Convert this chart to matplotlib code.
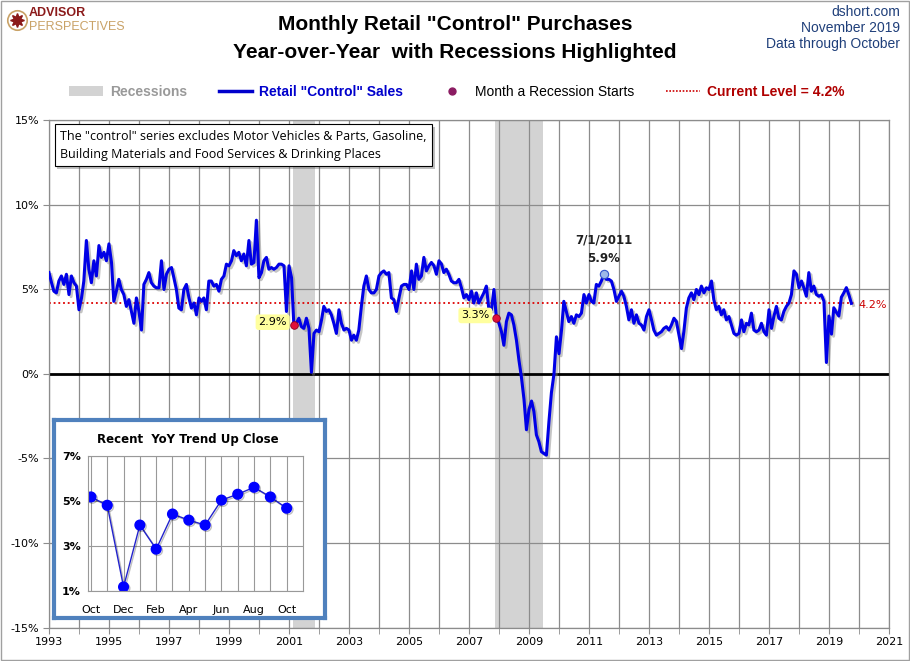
import matplotlib
matplotlib.use("Agg")
import pandas as pd
import matplotlib.pyplot as plt
import matplotlib.dates as d
import matplotlib.patheffects as pe
from matplotlib import font_manager
from matplotlib.lines import Line2D
from matplotlib.patches import Patch

# Retail "control" sales, YoY % change, monthly Jan 1993 .. Oct 2019
yoy_1990s = [
    6.0, 5.4, 4.9, 4.8, 5.5, 5.8, 5.3, 5.9, 4.7, 5.8, 5.4, 5.2,   # 1993
    3.8, 4.5, 5.5, 7.9, 6.2, 5.4, 6.7, 5.8, 7.6, 6.9, 7.2, 6.7,   # 1994
    7.7, 6.6, 4.3, 4.9, 5.6, 5.0, 4.7, 4.0, 4.4, 3.7, 3.0, 4.5,   # 1995
    3.7, 2.6, 5.3, 5.6, 6.0, 5.4, 5.2, 5.1, 5.1, 6.7, 5.0, 5.9,   # 1996
    6.2, 6.3, 5.7, 5.0, 3.9, 3.8, 5.0, 5.3, 4.5, 3.9, 4.2, 3.5,   # 1997
    4.5, 4.3, 4.5, 3.8, 5.5, 5.5, 5.2, 5.3, 4.9, 5.6, 5.8, 6.5,   # 1998
    6.4, 6.7, 7.3, 7.0, 7.2, 6.7, 7.1, 6.4, 7.9, 6.5, 6.6, 9.1,   # 1999
]
yoy_2000s = [
    5.7, 6.0, 6.7, 6.9, 6.2, 6.3, 6.2, 6.3, 6.5, 6.5, 6.4, 3.7,   # 2000
    6.4, 5.7, 2.9, 3.0, 3.3, 2.8, 2.7, 3.3, 2.7, 0.1, 2.4, 2.6,   # 2001
    2.5, 3.2, 4.0, 3.7, 3.8, 3.5, 3.0, 2.4, 3.8, 3.0, 2.6, 2.7,   # 2002
    2.6, 2.0, 2.3, 2.0, 2.6, 4.0, 5.2, 5.8, 5.0, 4.8, 4.8, 5.0,   # 2003
    5.8, 6.0, 6.1, 5.9, 6.0, 4.5, 4.4, 3.7, 4.5, 5.2, 5.3, 5.3,   # 2004
    5.0, 6.1, 5.0, 6.5, 5.6, 5.8, 6.9, 6.1, 6.4, 6.6, 6.4, 5.9,   # 2005
    6.7, 6.5, 6.0, 6.2, 5.9, 5.5, 5.4, 5.4, 5.6, 5.1, 4.5, 4.7,   # 2006
    4.4, 4.9, 4.2, 4.8, 4.2, 4.5, 4.8, 5.2, 3.8, 3.8, 5.0, 3.3,   # 2007
    3.0, 2.5, 1.7, 3.1, 3.6, 3.5, 2.9, 2.0, 0.8, -0.2, -1.5, -3.3,  # 2008
    -2.1, -1.6, -2.2, -3.6, -4.0, -4.6, -4.7, -4.8, -2.8, -1.1, 0.0, 2.2,  # 2009
]
yoy_2010s = [
    1.2, 2.6, 4.3, 3.7, 3.1, 3.4, 3.0, 3.5, 3.4, 3.6, 4.7, 4.2,   # 2010
    4.7, 4.3, 4.2, 5.3, 5.2, 5.5, 5.9, 5.6, 5.6, 5.5, 5.0, 4.3,   # 2011
    4.6, 4.9, 4.6, 4.0, 3.2, 3.8, 3.0, 3.5, 3.0, 2.9, 2.6, 3.4,   # 2012
    3.8, 3.2, 2.6, 2.3, 2.4, 2.5, 2.7, 2.8, 2.6, 2.9, 3.3, 3.1,   # 2013
    2.3, 1.5, 2.5, 3.9, 4.5, 4.8, 4.4, 5.0, 4.7, 5.2, 4.8, 5.1,   # 2014
    5.0, 5.5, 4.4, 3.8, 4.0, 3.5, 3.8, 3.2, 3.4, 2.9, 2.4, 2.3,   # 2015
    2.4, 3.2, 2.5, 3.0, 2.9, 3.6, 2.6, 2.5, 2.6, 3.0, 2.5, 2.3,   # 2016
    3.8, 2.7, 3.4, 4.0, 3.3, 3.2, 3.7, 4.0, 4.2, 4.7, 6.1, 5.9,   # 2017
    5.1, 5.5, 5.1, 4.6, 6.0, 4.9, 5.2, 4.7, 4.6, 4.68, 4.31, 0.68,  # 2018
    3.43, 2.36, 3.92, 3.65, 3.43, 4.54, 4.80, 5.11, 4.68, 4.18,      # 2019
]
yoy = yoy_1990s + yoy_2000s + yoy_2010s
dates = pd.date_range("1993-01-01", periods=len(yoy), freq="MS")
series = pd.Series(yoy, index=dates)

rec_start = pd.to_datetime(["2001-03-01", "2007-12-01"])
rec_end = pd.to_datetime(["2001-11-01", "2009-06-01"])
peak_date = pd.Timestamp("2011-07-01")
current_level = 4.2

tick_years = list(range(1993, 2022, 2))
y_ticks = [-15, -10, -5, 0, 5, 10, 15]

inset_ticks = [0.5, 2.5, 4.5, 6.5]
inset_tick_labels = ["1%", "3%", "5%", "7%"]

names = {f.name for f in font_manager.fontManager.ttflist}
narrow = "Liberation Sans Narrow" if "Liberation Sans Narrow" in names else "Liberation Sans"

navy = "#1F3F7A"
grid_c = "#8C8C8C"

fig = plt.figure(figsize=(9.1, 6.61), dpi=100)
fig.patch.set_facecolor("white")
fig.add_artist(plt.Rectangle((0.001, 0.001), 0.998, 0.998, transform=fig.transFigure,
                             fill=False, edgecolor="#A0A0A0", lw=1))

ax = fig.add_axes([49 / 910, 1 - 627.5 / 661, 840 / 910, 507 / 661])

# recessions
for s, e in zip(rec_start, rec_end):
    ax.axvspan(s - pd.Timedelta(days=15), e + pd.Timedelta(days=15),
               color="#D3D3D3", lw=0, zorder=0.2)

ax.plot(dates, series, color="#0000E6", lw=2.2, zorder=3,
        path_effects=[pe.SimpleLineShadow(offset=(1.5, -1.5), shadow_color="#808080", alpha=0.45),
                      pe.Normal()])
ax.axhline(0, color="black", lw=2, zorder=2)
ax.hlines(current_level, dates[0], dates[-1] + pd.DateOffset(months=1),
          colors="#DD0000", linestyles=(0, (1, 1.6)), lw=1.3, zorder=2.5)

# recession start markers
start_vals = series[rec_start]
ax.scatter(rec_start, start_vals, s=30, color="#E0103A", edgecolor="#900020", lw=0.6, zorder=5)
for dt, v in start_vals.items():
    ax.annotate(f"{v:.1f}%", (dt, v), xytext=(-5, 2), textcoords="offset points",
                ha="right", va="center", fontsize=8, color="black",
                bbox=dict(boxstyle="round,pad=0.25", fc="#FFFF9E", ec="none"), zorder=6)

# peak marker
pv = series[peak_date]
ax.plot(peak_date, pv, "o", ms=6, mfc="#9DB9E8", mec="#3355CC", mew=0.8, zorder=5)
ax.annotate(f"{peak_date.month}/{peak_date.day}/{peak_date.year}\n{pv:.1f}%", (peak_date, pv),
            xytext=(0, 7), textcoords="offset points", ha="center", va="bottom",
            fontsize=8.5, color="#202020", fontweight="semibold", linespacing=1.5)

# current value label
ax.annotate(f"{series.iloc[-1]:.1f}%", (dates[-1], series.iloc[-1]), xytext=(5, -1),
            textcoords="offset points", ha="left", va="center", fontsize=8, color="#CC0000")

ax.set_xlim(pd.Timestamp("1993-01-01"), pd.Timestamp("2021-01-01"))
ax.set_ylim(-15, 15)
ax.set_xticks(pd.to_datetime([f"{y}-01-01" for y in tick_years]))
ax.set_xticklabels([str(y) for y in tick_years])
ax.set_xticks(pd.date_range("1993-01-01", "2021-01-01", freq="YS"), minor=True)
ax.set_yticks(y_ticks)
ax.set_yticklabels([f"{t}%" for t in y_ticks])
ax.set_axisbelow(True)
ax.grid(which="both", axis="x", color=grid_c, lw=0.9)
ax.grid(which="major", axis="y", color=grid_c, lw=0.9)
ax.tick_params(which="both", direction="out", length=4, color=grid_c, labelsize=8, pad=3)
for sp in ax.spines.values():
    sp.set_color(grid_c)
    sp.set_linewidth(0.9)

note = ax.text(0.0135, 0.982,
               'The "control" series excludes Motor Vehicles & Parts, Gasoline,\n'
               'Building Materials and Food Services & Drinking Places',
               transform=ax.transAxes, ha="left", va="top", fontsize=9, family="Open Sans",
               linespacing=1.5, zorder=7,
               bbox=dict(boxstyle="square,pad=0.45", fc="white", ec="black", lw=0.8))
note.get_bbox_patch().set_path_effects([pe.withSimplePatchShadow(offset=(2, -2), alpha=0.35)])

# titles and header
fig.text(0.5, 1 - 24 / 661, 'Monthly Retail "Control" Purchases', ha="center", va="center",
         family=narrow, fontsize=15, fontweight="bold")
fig.text(0.5, 1 - 53 / 661, "Year-over-Year  with Recessions Highlighted", ha="center", va="center",
         family=narrow, fontsize=15, fontweight="bold")
for i, line in enumerate(["dshort.com", "November 2019", "Data through October"]):
    fig.text(900 / 910, 1 - (12 + 16 * i) / 661, line, ha="right", va="center",
             family=narrow, fontsize=10, color=navy)

# logo
fig.add_artist(Line2D([17 / 910], [1 - 20 / 661], marker="o", ms=14, mfc="none", mec="#C9A267",
                      mew=1.2, transform=fig.transFigure))
fig.add_artist(Line2D([17 / 910], [1 - 20 / 661], marker=(8, 1, 0), ms=10, color="#8B1A1A",
                      transform=fig.transFigure))
fig.text(29 / 910, 1 - 13 / 661, "ADVISOR", ha="left", va="center", family=narrow,
         fontsize=9, fontweight="bold", color="#8B1A1A")
fig.text(29 / 910, 1 - 27 / 661, "PERSPECTIVES", ha="left", va="center", family=narrow,
         fontsize=9, color="#C9A267")

# legend
handles = [Patch(fc="#D3D3D3", ec="none"),
           Line2D([], [], color="#0000CC", lw=2.5),
           Line2D([], [], ls="none", marker="o", ms=5, mfc="#8B1C62", mec="#8B1C62"),
           Line2D([], [], color="#CC0000", ls=(0, (1, 1)), lw=1.2)]
labels = ["Recessions", 'Retail "Control" Sales', "Month a Recession Starts",
          f"Current Level = {current_level}%"]
leg = fig.legend(handles, labels, loc="center", bbox_to_anchor=(0.502, 1 - 92 / 661), ncol=4,
                 frameon=False, prop={"family": narrow, "size": 10}, handlelength=2.4,
                 handletextpad=0.5, columnspacing=2.3)
for txt, col, w in zip(leg.get_texts(), ["#999999", "#0000CC", "black", "#B00000"],
                       ["bold", "bold", "normal", "bold"]):
    txt.set_color(col)
    txt.set_fontweight(w)

# inset
ibox = fig.add_axes([54 / 910, 1 - 618 / 661, 271 / 910, 198 / 661])
ibox.set_xticks([])
ibox.set_yticks([])
for sp in ibox.spines.values():
    sp.set_color("#4F81BD")
    sp.set_linewidth(3)
fig.text(188 / 910, 1 - 439 / 661, "Recent  YoY Trend Up Close", ha="center", va="center",
         fontsize=8.5, fontweight="bold")

recent = series.iloc[-13:]
iax = fig.add_axes([88 / 910, 1 - 591 / 661, 215 / 910, 135 / 661])
xs = list(range(len(recent)))
iax.plot(xs, recent.values, color="#2222CC", lw=1, marker="o", ms=7, mfc="#0000FF", mec="#0000FF",
         path_effects=[pe.SimpleLineShadow(offset=(1, -1), alpha=0.25), pe.Normal()])
iax.set_xlim(-0.18, 13)
iax.set_ylim(0.5, 6.5)
iax.set_xticks(xs)
iax.set_xticklabels([dt.strftime("%b") if i % 2 == 0 else "" for i, dt in enumerate(recent.index)])
iax.set_yticks(inset_ticks)
iax.set_yticklabels(inset_tick_labels, fontweight="bold")
iax.grid(True, color="#999999", lw=0.8)
iax.tick_params(axis="y", length=0, labelsize=8, pad=5)
iax.tick_params(axis="x", length=0, labelsize=8, pad=10)
for sp in iax.spines.values():
    sp.set_color("#999999")
    sp.set_linewidth(0.8)

fig.savefig("out.png", dpi=100)
